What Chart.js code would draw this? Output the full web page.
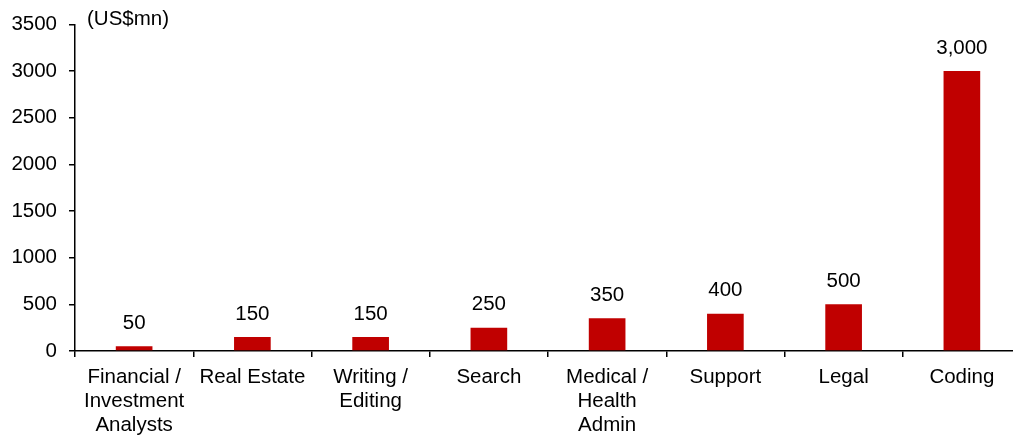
<!DOCTYPE html>
<html>
<head>
<meta charset="utf-8">
<script src="https://cdn.jsdelivr.net/npm/chart.js@4/dist/chart.umd.min.js"></script>
<style>
  html, body { margin: 0; padding: 0; background: #fff; overflow: hidden; }
  #wrap { width: 1024px; height: 436px; }
</style>
</head>
<body>
<div id="wrap"><canvas id="chart" width="1024" height="436"></canvas></div>
<script>
// categories along the x-axis
var categories = [
  ["Financial /", "Investment", "Analysts"],
  "Real Estate",
  ["Writing /", "Editing"],
  "Search",
  ["Medical /", "Health", "Admin"],
  "Support",
  "Legal",
  "Coding"
];
// market size, US$mn
var values = [50, 150, 150, 250, 350, 400, 500, 3000];
var unitLabel = "(US$mn)";
var yMax = 3500;
var yStep = 500;

var FONT = "'Liberation Sans', Arial, sans-serif";
var FSIZE = 20.5;

// numbers above the bars + unit label at the top left
var labelPlugin = {
  id: 'barLabels',
  afterDatasetsDraw: function(chart) {
    var ctx = chart.ctx;
    var meta = chart.getDatasetMeta(0);
    ctx.save();
    ctx.font = FSIZE + "px " + FONT;
    ctx.fillStyle = "#000";
    ctx.textAlign = "center";
    ctx.textBaseline = "middle";
    meta.data.forEach(function(bar, i) {
      ctx.fillText(values[i].toLocaleString('en-US'), bar.x, bar.y - 23);
    });
    ctx.textAlign = "left";
    ctx.fillText(unitLabel, chart.chartArea.left + 12, chart.chartArea.top - 5);
    ctx.restore();
  }
};

window.onload = function() {
  var ctx = document.getElementById("chart");
  new Chart(ctx, {
    type: 'bar',
    data: {
      labels: categories,
      datasets: [{
        data: values,
        backgroundColor: "#C00000",
        borderWidth: 0,
        barPercentage: 0.31,
        categoryPercentage: 1
      }]
    },
    options: {
      responsive: false,
      animation: false,
      devicePixelRatio: 1,
      layout: { padding: { top: 23, left: 0, right: 3, bottom: 0 } },
      plugins: { legend: { display: false }, tooltip: { enabled: false } },
      scales: {
        x: {
          offset: true,
          grid: { offset: true, drawOnChartArea: false, drawTicks: true, tickLength: 6, color: "#000", lineWidth: 1.5 },
          border: { color: "#000", width: 1.5 },
          ticks: { color: "#000", font: { family: FONT, size: FSIZE, lineHeight: 24 / FSIZE }, padding: 8, maxRotation: 0, autoSkip: false },
          afterFit: function(scale) { scale.height = 85; }
        },
        y: {
          min: 0,
          max: yMax,
          grid: { drawOnChartArea: false, drawTicks: true, tickLength: 6, color: "#000", lineWidth: 1.5 },
          border: { color: "#000", width: 1.5 },
          ticks: {
            stepSize: yStep, color: "#000", font: { family: FONT, size: FSIZE }, padding: 12,
            callback: function(v) { return String(v); }
          },
          afterFit: function(scale) { scale.width = 75; }
        }
      }
    },
    plugins: [labelPlugin]
  });
};
</script>
</body>
</html>
